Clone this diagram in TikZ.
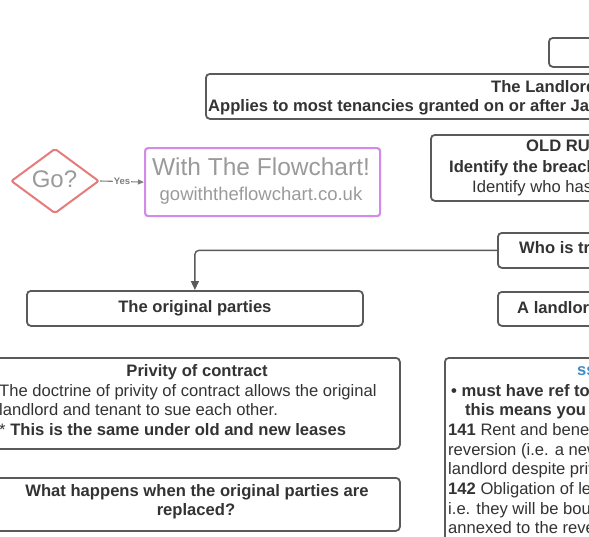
\documentclass[tikz,border=0pt]{standalone}
\usepackage{fontspec}
\setmainfont{Liberation Sans}
\usetikzlibrary{shapes.geometric,arrows.meta}
\definecolor{boxc}{HTML}{5A5A5A}
\definecolor{txt}{HTML}{333333}
\definecolor{gtxt}{HTML}{9A9A9A}
\definecolor{ytxt}{HTML}{7F7F7F}
\definecolor{redd}{HTML}{E77B7B}
\definecolor{purp}{HTML}{D38BEA}
\definecolor{bluet}{HTML}{3C8DC5}
\begin{document}
\begin{tikzpicture}[x=1pt,y=-1pt,
  box/.style={draw=boxc,line width=1.8pt,rounded corners=4pt,fill=white,anchor=north west,inner sep=0pt},
  bt/.style={font=\fontsize{16.6}{20}\selectfont\bfseries,text=txt,inner sep=0pt},
  rt/.style={font=\fontsize{16.6}{20}\selectfont,text=txt,inner sep=0pt},
  conn/.style={draw=boxc,line width=1.4pt,rounded corners=4pt,-{Triangle[length=9pt,width=8pt]}}]
\useasboundingbox (0,0) rectangle (589,536);
\clip (0,0) rectangle (589,536);
% boxes
\node[box,minimum width=200pt,minimum height=29pt] (topbox) at (548,37) {};
\node[box,minimum width=600pt,minimum height=45pt] (landlord) at (205,73) {};
\node[box,minimum width=300pt,minimum height=66pt] (oldru) at (430,134) {};
\node[box,minimum width=200pt,minimum height=35pt] (who) at (497,232) {};
\node[box,minimum width=336pt,minimum height=35pt,font=\fontsize{16.6}{20}\selectfont\bfseries,text=txt] (orig) at (26,290) {The original parties};
\node[box,minimum width=200pt,minimum height=34pt] (aland) at (497,291) {};
\node[box,minimum width=409pt,minimum height=91pt] (privity) at (-10,357) {};
\node[box,minimum width=409pt,minimum height=53pt] (what) at (-10,477) {};
\node[box,minimum width=300pt,minimum height=250pt] (ss) at (444,357) {};
% go with the flowchart
\node[diamond,draw=redd,line width=2pt,minimum width=88pt,minimum height=65pt,inner sep=0pt,rounded corners=2pt] (go) at (55,181) {};
\node[font=\fontsize{24}{28}\selectfont,text=gtxt,inner sep=0pt,anchor=base] (gotxt) at (54.5,187.5) {Go?};
\node[draw=purp,line width=2.2pt,rounded corners=3pt,anchor=north west,minimum width=235pt,minimum height=68pt,inner sep=0pt] (fc) at (144,147) {};
\node[font=\fontsize{24.5}{28}\selectfont,text=gtxt,inner sep=0pt,anchor=base] (fc1) at (261,175.5) {With The Flowchart!};
\node[font=\fontsize{18.5}{22}\selectfont,text=gtxt,inner sep=0pt,anchor=base] (fc2) at (261,200) {gowiththeflowchart.co.uk};
\draw[draw=ytxt,line width=1.1pt,-{Triangle[length=6pt,width=5pt]}] (go.east) -- node[fill=white,inner sep=1pt,font=\fontsize{9.5}{11}\selectfont\bfseries,text=ytxt] (yes) {Yes} (fc.west);
% connector
\draw[conn] (who.west) -| (orig.north);
% texts
\node[bt,anchor=base west] (t1) at (491,92) {The Landlord and};
\node[bt,anchor=base west] (t2) at (208,111) {Applies to most tenancies granted on or after January};
\node[bt,anchor=base west] (t3) at (526,151) {OLD RULES};
\node[bt,anchor=base west] (t4) at (449,172) {Identify the breach};
\node[rt,anchor=base west] (t5) at (472,192) {Identify who has};
\node[bt,anchor=base west] (t6) at (519,253) {Who is treated};
\node[bt,anchor=base west] (t7) at (517,313) {A landlord};
\node[bt,anchor=base] (p1) at (197,376) {Privity of contract};
\node[rt,anchor=base west] (p2) at (-1,396) {The doctrine of privity of contract allows the original};
\node[rt,anchor=base west] (p3) at (-1,415.7) {landlord and tenant to sue each other.};
\node[rt,anchor=base west] (p4) at (-1,435.4) {* \textbf{This is the same under old and new leases}};
\node[bt,anchor=base] (w1) at (197,496) {What happens when the original parties are};
\node[bt,anchor=base] (w2) at (196,515.5) {replaced?};
\node[bt,anchor=base west,text=bluet] (s0) at (577,375) {ss 141};
\node[bt,anchor=base west] (s1) at (451,396) {• must have ref to};
\node[bt,anchor=base west] (s2) at (465,415.7) {this means you};
\node[rt,anchor=base west] (s3) at (448,435.4) {\textbf{141} Rent and benefit};
\node[rt,anchor=base west] (s4) at (448,455.1) {reversion (i.e. a new};
\node[rt,anchor=base west] (s5) at (448,474.8) {landlord despite privity};
\node[rt,anchor=base west] (s6) at (448,494.5) {\textbf{142} Obligation of lessee};
\node[rt,anchor=base west] (s7) at (448,514.2) {i.e. they will be bound};
\node[rt,anchor=base west] (s8) at (448,533.9) {annexed to the reversion};
\end{tikzpicture}
\end{document}
